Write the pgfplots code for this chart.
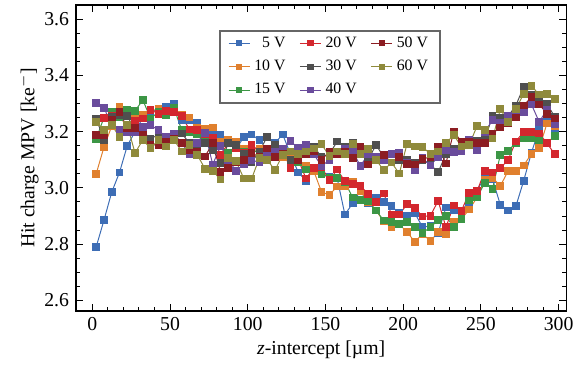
\documentclass[border=0pt]{standalone}
\usepackage{fontspec}
\setmainfont{Liberation Serif}
\usepackage{pgfplots}
\usepackage{pgfplotstable}
\pgfplotsset{compat=1.18}
\definecolor{cA}{HTML}{3D6DB5}
\definecolor{cB}{HTML}{E0802E}
\definecolor{cC}{HTML}{3C9645}
\definecolor{cD}{HTML}{D3272E}
\definecolor{cE}{HTML}{4F4F4F}
\definecolor{cF}{HTML}{6A4C9C}
\definecolor{cG}{HTML}{8C1D22}
\definecolor{cH}{HTML}{8F8A3B}
\pgfplotstableread{
x v5 v10 v15 v20 v30 v40 v50 v60
2.5 2.790 3.050 3.175 3.247 3.247 3.303 3.188 3.235
7.5 2.885 3.145 3.250 3.249 3.171 3.285 3.188 3.206
12.5 2.985 3.220 3.270 3.258 3.252 3.223 3.241 3.223
17.5 3.055 3.290 3.250 3.260 3.258 3.206 3.270 3.182
22.5 3.150 3.265 3.278 3.212 3.256 3.200 3.214 3.223
27.5 3.200 3.260 3.274 3.238 3.206 3.200 3.212 3.124
32.5 3.250 3.260 3.313 3.247 3.200 3.217 3.188 3.171
37.5 3.270 3.275 3.247 3.278 3.176 3.223 3.153 3.141
42.5 3.280 3.280 3.270 3.264 3.188 3.206 3.153 3.171
47.5 3.290 3.275 3.260 3.274 3.173 3.180 3.165 3.147
52.5 3.300 3.270 3.285 3.270 3.190 3.194 3.176 3.171
57.5 3.240 3.260 3.206 3.255 3.194 3.159 3.160 3.130
62.5 3.240 3.250 3.200 3.208 3.159 3.121 3.136 3.153
67.5 3.230 3.215 3.190 3.205 3.147 3.161 3.130 3.118
72.5 3.210 3.210 3.170 3.190 3.159 3.196 3.112 3.068
77.5 3.200 3.215 3.160 3.179 3.136 3.083 3.159 3.060
82.5 3.190 3.165 3.150 3.118 3.089 3.150 3.056 3.030
87.5 3.160 3.170 3.124 3.159 3.159 3.100 3.071 3.106
92.5 3.140 3.165 3.140 3.140 3.153 3.060 3.090 3.095
97.5 3.180 3.140 3.130 3.124 3.120 3.085 3.100 3.033
102.5 3.190 3.130 3.140 3.153 3.091 3.100 3.124 3.033
107.5 3.170 3.140 3.120 3.130 3.130 3.090 3.110 3.106
112.5 3.180 3.120 3.130 3.120 3.182 3.120 3.140 3.100
117.5 3.160 3.135 3.110 3.135 3.153 3.130 3.110 3.063
122.5 3.190 3.110 3.120 3.130 3.120 3.140 3.120 3.118
127.5 3.120 3.120 3.090 3.071 3.100 3.167 3.130 3.130
132.5 3.055 3.100 3.090 3.100 3.120 3.141 3.100 3.120
137.5 3.025 3.080 3.065 3.033 3.140 3.153 3.120 3.130
142.5 3.070 3.060 3.070 3.071 3.147 3.120 3.130 3.140
147.5 3.050 2.985 3.050 3.074 3.110 3.077 3.100 3.155
152.5 3.040 2.975 3.036 3.027 3.120 3.100 3.130 3.114
157.5 3.035 3.005 3.036 3.065 3.165 3.130 3.120 3.130
162.5 2.905 3.005 3.020 3.024 3.147 3.140 3.130 3.120
167.5 2.945 3.020 2.966 3.013 3.159 3.130 3.106 3.157
172.5 2.990 2.990 2.957 3.007 3.120 3.078 3.147 3.120
177.5 2.945 2.950 2.954 2.978 3.100 3.120 3.083 3.139
182.5 2.965 2.920 2.920 2.950 3.153 3.110 3.100 3.100
187.5 2.950 2.880 2.884 2.980 3.110 3.100 3.118 3.063
192.5 2.935 2.860 2.878 2.905 3.120 3.120 3.090 3.090
197.5 2.910 2.870 2.872 2.905 3.100 3.124 3.110 3.051
202.5 2.900 2.843 2.878 2.942 3.100 3.090 3.085 3.157
207.5 2.910 2.808 2.860 2.928 3.090 3.062 3.083 3.147
212.5 2.860 2.837 2.840 2.898 3.100 3.106 3.103 3.145
217.5 2.865 2.810 2.860 2.901 3.083 3.080 3.110 3.121
222.5 2.840 2.843 2.886 2.954 3.056 3.110 3.145 3.130
227.5 2.930 2.835 2.900 2.860 3.120 3.136 3.087 3.159
232.5 2.920 2.878 2.860 2.937 3.140 3.127 3.200 3.188
237.5 2.920 2.890 2.890 2.919 3.150 3.130 3.165 3.147
242.5 2.950 2.923 2.955 2.983 3.168 3.170 3.165 3.153
247.5 2.990 2.966 2.966 2.989 3.168 3.136 3.160 3.220
252.5 3.040 3.030 3.018 3.059 3.170 3.200 3.160 3.206
257.5 3.030 3.036 2.997 3.055 3.258 3.241 3.194 3.176
262.5 2.940 3.007 3.118 3.070 3.250 3.230 3.215 3.280
267.5 2.920 3.060 3.132 3.100 3.255 3.255 3.230 3.235
272.5 2.935 3.060 3.160 3.165 3.293 3.255 3.250 3.282
277.5 3.025 3.080 3.177 3.200 3.360 3.270 3.293 3.334
282.5 3.125 3.121 3.177 3.198 3.330 3.297 3.323 3.363
287.5 3.210 3.141 3.170 3.194 3.317 3.235 3.297 3.332
292.5 3.250 3.229 3.159 3.159 3.300 3.278 3.264 3.334
297.5 3.210 3.220 3.185 3.120 3.252 3.227 3.247 3.317
}\data
\pgfplotsset{
  lgimg/.style={color=#1, line width=0.5pt, mark=square*, mark size=1.3pt},
}
\begin{document}
\begin{tikzpicture}
\begin{axis}[
  scale only axis,
  width=248.5pt, height=155pt,
  xmin=-10.5, xmax=305, ymin=2.5625, ymax=3.651,
  xtick={0,50,100,150,200,250,300},
  ytick={2.6,2.8,3.0,3.2,3.4,3.6},
  minor x tick num=4, minor y tick num=3,
  tick align=inside,
  major tick length=3.5pt, minor tick length=2pt,
  axis line style={line width=0.7pt},
  every tick/.style={black, line width=0.5pt},
  /pgf/number format/assume math mode=true,
  yticklabel style={/pgf/number format/.cd, fixed, fixed zerofill, precision=1},
  xlabel={\textit{z}-intercept [µm]},
  ylabel={Hit charge MPV [ke$^{-}$]},
  xlabel style={yshift=2pt},
  ylabel style={yshift=-4pt},
  every axis plot/.append style={line width=0.5pt, mark=square*, mark size=1.7pt},
  legend image code/.code={\draw[mark repeat=2,mark phase=2] plot coordinates {(0cm,0cm) (0.19cm,0cm) (0.38cm,0cm)};},
  legend style={at={(0.292,0.919)}, anchor=north west, draw=black!60, line width=1pt,
    font=\footnotesize, inner xsep=4pt, inner ysep=1pt, row sep=1pt,
    /tikz/every even column/.append style={column sep=5pt}},
  legend cell align=left,
  legend columns=3,
]
\addplot[color=cA, forget plot] table[x=x, y=v5] {\data};
\addplot[color=cB, forget plot] table[x=x, y=v10] {\data};
\addplot[color=cC, forget plot] table[x=x, y=v15] {\data};
\addplot[color=cD, forget plot] table[x=x, y=v20] {\data};
\addplot[color=cE, forget plot] table[x=x, y=v30] {\data};
\addplot[color=cF, forget plot] table[x=x, y=v40] {\data};
\addplot[color=cG, forget plot] table[x=x, y=v50] {\data};
\addplot[color=cH, forget plot] table[x=x, y=v60] {\data};
\addlegendimage{lgimg=cA}
\addlegendentry{\phantom{1}5 V}
\addlegendimage{lgimg=cD}
\addlegendentry{20 V}
\addlegendimage{lgimg=cG}
\addlegendentry{50 V}
\addlegendimage{lgimg=cB}
\addlegendentry{10 V}
\addlegendimage{lgimg=cE}
\addlegendentry{30 V}
\addlegendimage{lgimg=cH}
\addlegendentry{60 V}
\addlegendimage{lgimg=cC}
\addlegendentry{15 V}
\addlegendimage{lgimg=cF}
\addlegendentry{40 V}
\end{axis}
\path ([xshift=-38.5pt]current axis.south west) ([xshift=3pt,yshift=2.5pt]current axis.north east);
\end{tikzpicture}
\end{document}
